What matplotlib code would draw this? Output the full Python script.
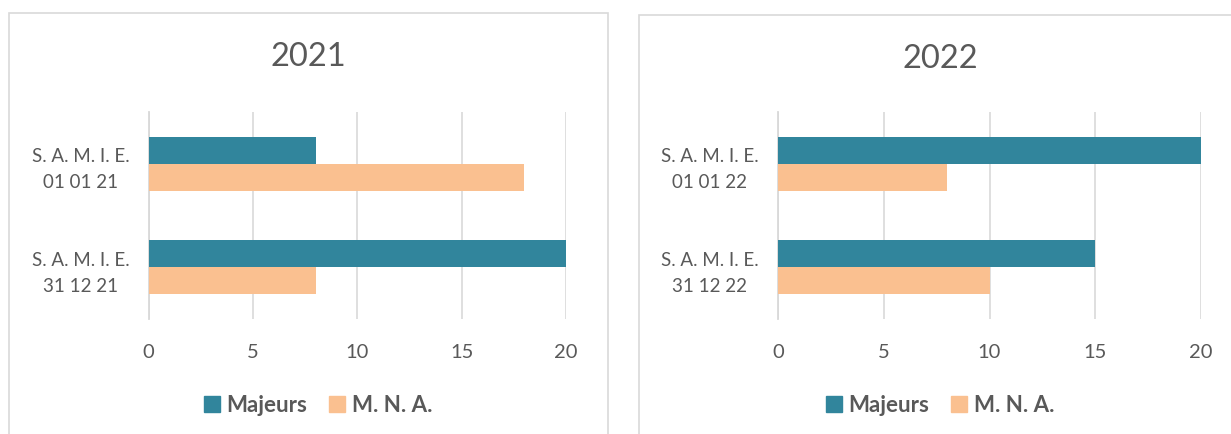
import matplotlib
matplotlib.use("Agg")
import matplotlib.pyplot as plt
from matplotlib.patches import Rectangle, Patch
import numpy as np

W, H = 1231, 434
plt.rcParams['font.family'] = ['Lato', 'DejaVu Sans']

# Data (categories listed top to bottom)
cats_2021 = ["S. A. M. I. E.\n01 01 21", "S. A. M. I. E.\n31 12 21"]
majeurs_2021 = [8, 20]
mna_2021 = [18, 8]

cats_2022 = ["S. A. M. I. E.\n01 01 22", "S. A. M. I. E.\n31 12 22"]
majeurs_2022 = [20, 15]
mna_2022 = [8, 10]

series_names = ["Majeurs", "M. N. A."]
xticks = [0, 5, 10, 15, 20]

TEAL = "#31859C"
ORANGE = "#FAC090"
TXT = "#595959"
GRID = "#D9D9D9"

fig = plt.figure(figsize=(W / 100, H / 100), dpi=100)


def px_rect(x0, y0, x1, y1):
    return [x0 / W, 1 - y1 / H, (x1 - x0) / W, (y1 - y0) / H]


# panel borders
for (x0, y0, x1, y1) in [(8.5, 13, 607.5, 460), (638.5, 14.5, 1260, 460)]:
    fig.add_artist(Rectangle((x0 / W, 1 - y1 / H), (x1 - x0) / W, (y1 - y0) / H,
                             transform=fig.transFigure, fill=False,
                             edgecolor=GRID, lw=1.2))


def draw(ax_rect, cats, maj, mna, title, title_xy, legend_xy):
    ax = fig.add_axes(ax_rect)
    n = len(cats)
    ypos = np.arange(n)[::-1]
    h = 0.26
    ax.barh(ypos + h / 2, maj, height=h, color=TEAL, zorder=3)
    ax.barh(ypos - h / 2, mna, height=h, color=ORANGE, zorder=3)
    ax.set_xlim(0, 20)
    ax.set_ylim(-0.5, n - 0.5)
    ax.set_xticks(xticks)
    ax.set_xticklabels([str(t) for t in xticks])
    ax.set_yticks(ypos)
    ax.set_yticklabels(cats)
    for lab in ax.get_yticklabels():
        lab.set_multialignment('center')
        lab.set_linespacing(1.65)
    ax.tick_params(axis='x', length=0, pad=18, labelsize=14.5, labelcolor=TXT)
    ax.tick_params(axis='y', length=0, pad=14, labelsize=13.5, labelcolor=TXT)
    for s in ['top', 'right', 'bottom']:
        ax.spines[s].set_visible(False)
    ax.spines['left'].set_color(GRID)
    ax.spines['left'].set_linewidth(1.3)
    ax.grid(axis='x', color=GRID, lw=1.2, zorder=0)
    ax.set_axisbelow(True)
    fig.text(title_xy[0] / W, 1 - title_xy[1] / H, title, ha='center', va='center',
             fontsize=23.5, color=TXT)
    handles = [Patch(color=TEAL), Patch(color=ORANGE)]
    fig.legend(handles, series_names, loc='center',
               bbox_to_anchor=(legend_xy[0] / W, 1 - legend_xy[1] / H),
               ncol=2, frameon=False, handlelength=0.72, handleheight=0.72,
               handletextpad=0.3, columnspacing=1.0,
               prop={'size': 16, 'weight': 'bold'}, labelcolor=TXT)
    return ax


draw(px_rect(148.7, 112, 566, 319), cats_2021, majeurs_2021, mna_2021,
     "2021", (308, 57), (318, 405))
draw(px_rect(778, 112, 1201, 319), cats_2022, majeurs_2022, mna_2022,
     "2022", (940, 59), (940, 405))

fig.savefig("out.png", dpi=100)
